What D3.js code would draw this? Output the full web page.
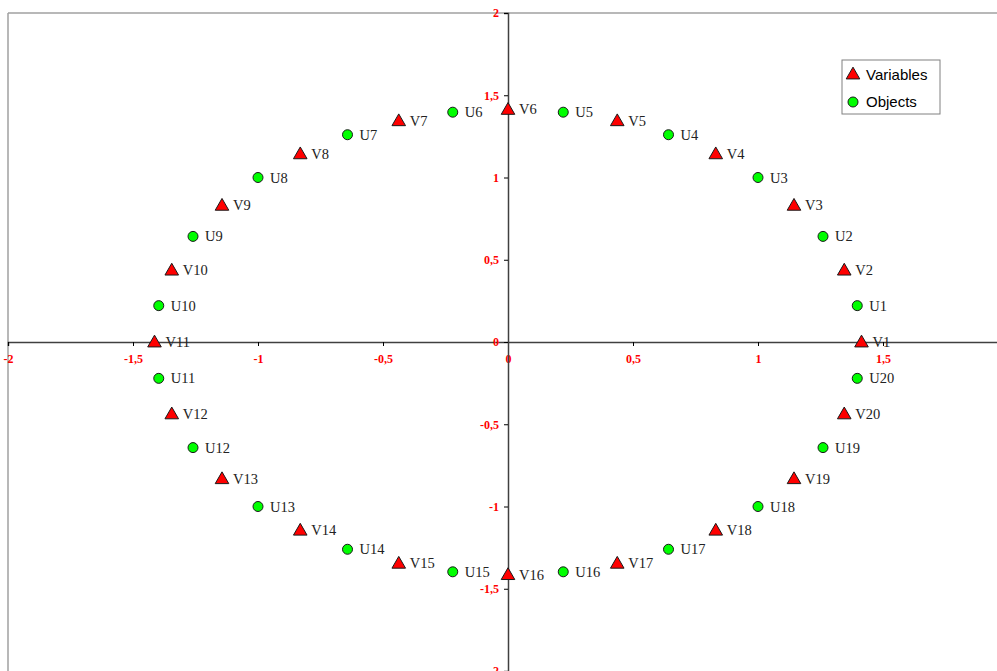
<!DOCTYPE html>
<html>
<head>
<meta charset="utf-8">
<script src="https://cdn.jsdelivr.net/npm/d3@7"></script>
<style>
  html, body { margin: 0; padding: 0; background: #fff; overflow: hidden; }
  svg { display: block; }
</style>
</head>
<body>
<svg id="chart" width="997" height="671"></svg>
<script>
// Variables (triangles)
const varLabels = ["V1","V2","V3","V4","V5","V6","V7","V8","V9","V10","V11","V12","V13","V14","V15","V16","V17","V18","V19","V20"];
const varX = [1.414, 1.345, 1.144, 0.831, 0.437, 0.000, -0.437, -0.831, -1.144, -1.345, -1.414, -1.345, -1.144, -0.831, -0.437, 0.000, 0.437, 0.831, 1.144, 1.345];
const varY = [0.000, 0.437, 0.831, 1.144, 1.345, 1.414, 1.345, 1.144, 0.831, 0.437, 0.000, -0.437, -0.831, -1.144, -1.345, -1.414, -1.345, -1.144, -0.831, -0.437];

// Objects (circles)
const objLabels = ["U1","U2","U3","U4","U5","U6","U7","U8","U9","U10","U11","U12","U13","U14","U15","U16","U17","U18","U19","U20"];
const objX = [1.397, 1.260, 1.000, 0.642, 0.221, -0.221, -0.642, -1.000, -1.260, -1.397, -1.397, -1.260, -1.000, -0.642, -0.221, 0.221, 0.642, 1.000, 1.260, 1.397];
const objY = [0.221, 0.642, 1.000, 1.260, 1.397, 1.397, 1.260, 1.000, 0.642, 0.221, -0.221, -0.642, -1.000, -1.260, -1.397, -1.397, -1.260, -1.000, -0.642, -0.221];

const xTicks = [-2, -1.5, -1, -0.5, 0, 0.5, 1, 1.5];
const yTicks = [-2, -1.5, -1, -0.5, 0, 0.5, 1, 1.5, 2];

const fmt = v => String(v).replace(".", ",");

const svg = d3.select("#chart");
const x = d3.scaleLinear().domain([-2, 2]).range([8, 1008]);
const y = d3.scaleLinear().domain([-2, 2]).range([671, 13]);

// plot area border (top and left visible)
svg.append("line").attr("x1", x(-2)).attr("x2", x(2)).attr("y1", y(2)).attr("y2", y(2))
  .attr("stroke", "#a0a0a0").attr("stroke-width", 1.5);
svg.append("line").attr("x1", x(-2)).attr("x2", x(-2)).attr("y1", y(2)).attr("y2", y(-2))
  .attr("stroke", "#a0a0a0").attr("stroke-width", 1.5);

const tickFont = "'Liberation Serif', 'Times New Roman', serif";

// axes crossing at the origin
const xAxis = d3.axisBottom(x).tickValues(xTicks).tickSize(4).tickFormat(fmt);
const gx = svg.append("g").attr("transform", `translate(0,${y(0)})`).call(xAxis);
gx.select(".domain").attr("stroke", "#404040").attr("stroke-width", 1.5);
gx.selectAll(".tick line").attr("stroke", "#000");
gx.selectAll(".tick text").attr("fill", "#ff0000").attr("y", 10).attr("dy", "0.95em")
  .style("font-family", tickFont).style("font-weight", "bold").style("font-size", "12px");

const yAxis = d3.axisLeft(y).tickValues(yTicks).tickSize(4).tickFormat(fmt);
const gy = svg.append("g").attr("transform", `translate(${x(0)},0)`).call(yAxis);
gy.select(".domain").attr("stroke", "#404040").attr("stroke-width", 1.5);
gy.selectAll(".tick line").attr("stroke", "#000");
gy.selectAll(".tick text").attr("fill", "#ff0000").attr("x", -9)
  .style("font-family", tickFont).style("font-weight", "bold").style("font-size", "12px");

const labelFont = "'Liberation Serif', 'Times New Roman', serif";
const tri = d3.symbol().type(d3.symbolTriangle).size(80);

const vars = varLabels.map((l, i) => ({ l, x: varX[i], y: varY[i] }));
const objs = objLabels.map((l, i) => ({ l, x: objX[i], y: objY[i] }));

// object markers
const go = svg.append("g");
go.selectAll("circle").data(objs).join("circle")
  .attr("cx", d => x(d.x)).attr("cy", d => y(d.y)).attr("r", 5)
  .attr("fill", "#00ff00").attr("stroke", "#1a1a1a").attr("stroke-width", 1);
go.selectAll("text").data(objs).join("text")
  .attr("x", d => x(d.x) + 12).attr("y", d => y(d.y) + 5)
  .text(d => d.l).attr("fill", "#222")
  .style("font-family", labelFont).style("font-size", "14.5px");

// variable markers
const gv = svg.append("g");
gv.selectAll("path").data(vars).join("path")
  .attr("d", tri).attr("transform", d => `translate(${x(d.x)},${y(d.y) + 1})`)
  .attr("fill", "#ff0000").attr("stroke", "#1a1a1a").attr("stroke-width", 1);
gv.selectAll("text").data(vars).join("text")
  .attr("x", d => x(d.x) + 11).attr("y", d => y(d.y) + 5)
  .text(d => d.l).attr("fill", "#222")
  .style("font-family", labelFont).style("font-size", "14.5px");

// legend
const lg = svg.append("g").attr("transform", "translate(842,60)");
lg.append("rect").attr("width", 98).attr("height", 54)
  .attr("fill", "#fff").attr("stroke", "#808080").attr("stroke-width", 1);
lg.append("path").attr("d", tri).attr("transform", "translate(11,15)")
  .attr("fill", "#ff0000").attr("stroke", "#1a1a1a");
lg.append("text").attr("x", 24).attr("y", 20).text("Variables")
  .style("font-family", "'Liberation Sans', Arial, sans-serif").style("font-size", "15px").attr("fill", "#000");
lg.append("circle").attr("cx", 11).attr("cy", 42).attr("r", 5)
  .attr("fill", "#00ff00").attr("stroke", "#1a1a1a");
lg.append("text").attr("x", 24).attr("y", 47).text("Objects")
  .style("font-family", "'Liberation Sans', Arial, sans-serif").style("font-size", "15px").attr("fill", "#000");
</script>
</body>
</html>
